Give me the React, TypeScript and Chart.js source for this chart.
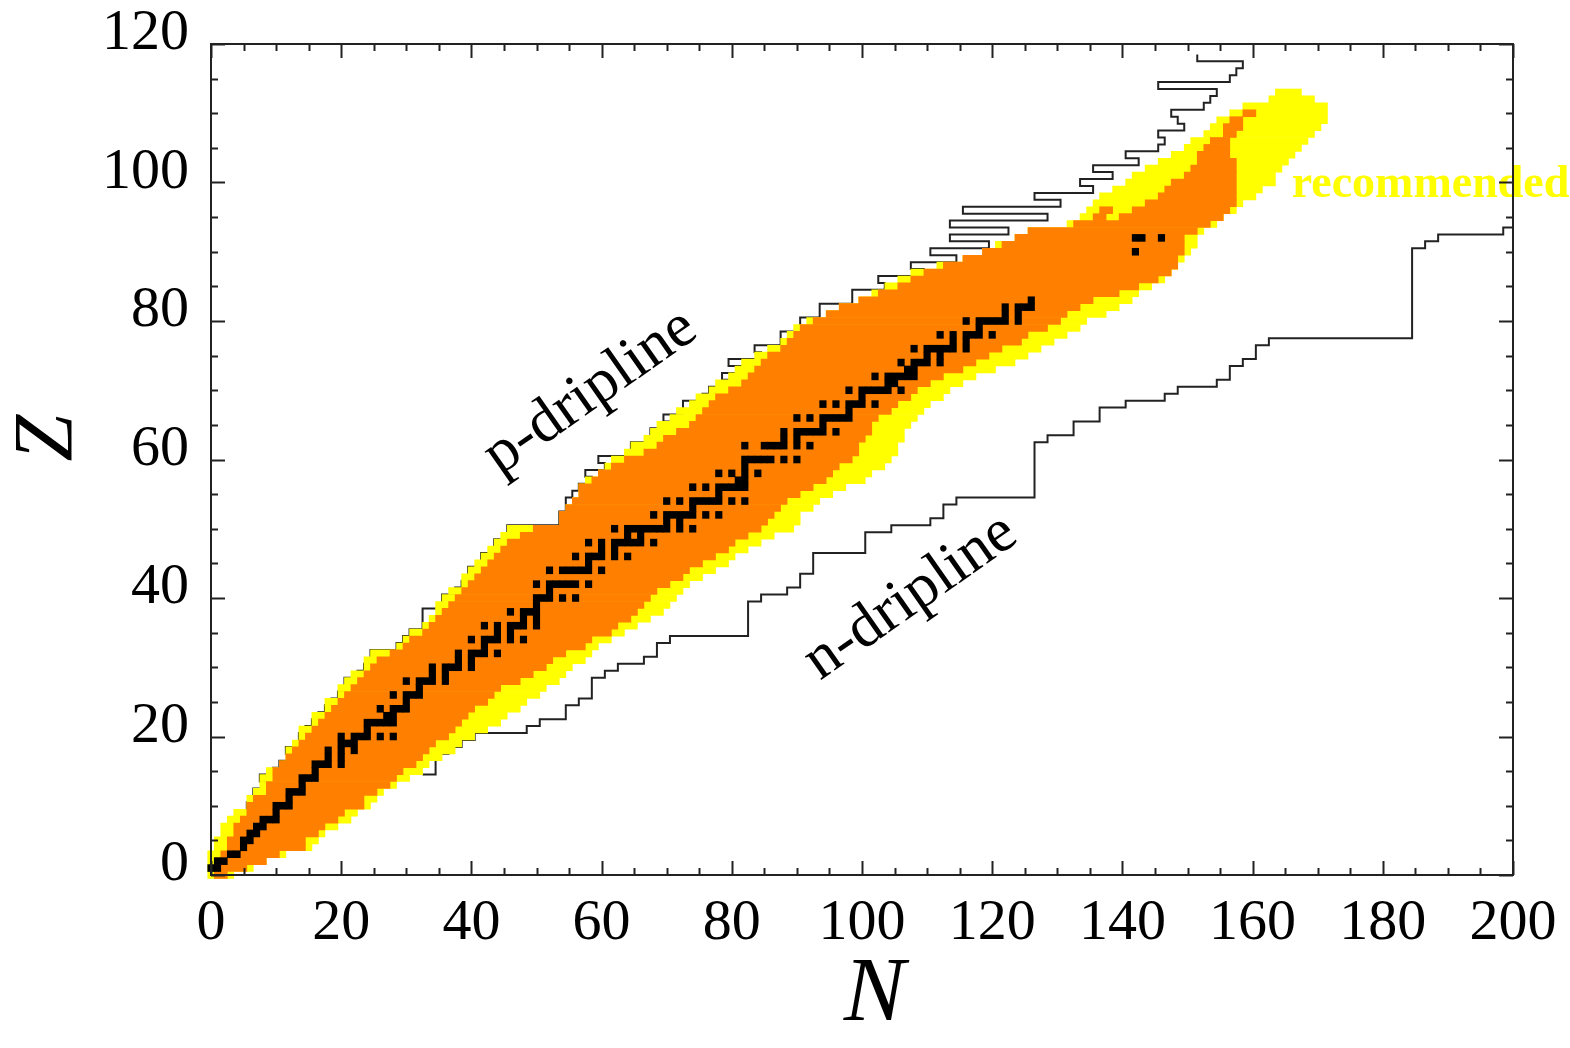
import React, { useEffect, useRef } from 'react';
import { Chart, registerables } from 'chart.js';

Chart.register(...registerables);

const W = 1570;
const H = 1048;

// Axis ranges and tick steps
const N_MAX = 200;
const Z_MAX = 120;
const LABEL_STEP = 20;
const MINOR_STEP = 5;

// Per-Z (index = Z) range of the "recommended" (yellow) region, in N
const yellowLeftN = [
  0, 0, 0, 0, 1, 1, 2, 2, 3, 4,
  6, 6, 7, 8, 8, 9, 11, 12, 12, 13,
  14, 14, 16, 16, 18, 18, 20, 20, 21, 22,
  24, 24, 25, 29, 30, 31, 33, 34, 35, 35,
  36, 37, 39, 39, 40, 41, 42, 43, 44, 45,
  46, 54, 54, 55, 56, 57, 57, 58, 60, 61,
  62, 64, 65, 67, 68, 69, 71, 72, 74, 75,
  77, 78, 80, 81, 82, 84, 86, 88, 89, 90,
  92, 95, 97, 100, 102, 104, 106, 108, 112, 116,
  119, 121, 124, 126, 132, 134, 135, 136, 137, 139,
  141, 142, 144, 146, 148, 150, 151, 153, 154, 155,
  157, 159, 163, 164,
];
const yellowRightN = [
  3, 6, 8, 11, 15, 16, 17, 19, 21, 22,
  24, 25, 26, 28, 30, 32, 33, 35, 37, 38,
  40, 42, 44, 45, 47, 48, 50, 51, 53, 54,
  55, 57, 58, 59, 61, 63, 65, 67, 69, 70,
  71, 72, 73, 75, 77, 79, 80, 82, 84, 86,
  89, 90, 90, 92, 93, 95, 97, 100, 101, 103,
  104, 105, 105, 106, 106, 107, 108, 109, 110, 112,
  113, 115, 117, 120, 123, 125, 127, 129, 131, 133,
  134, 137, 139, 141, 142, 144, 146, 147, 148, 149,
  150, 151, 151, 152, 154, 155, 157, 158, 160, 161,
  163, 163, 164, 165, 166, 167, 168, 169, 170, 171,
  171, 171, 169, 167,
];

// Per-Z (index = Z) range of the orange region, in N
const orangeLeftN = [
  1, 1, 1, 2, 3, 3, 4, 4, 5, 6,
  6, 7, 9, 9, 10, 10, 11, 12, 13, 14,
  15, 16, 17, 18, 19, 20, 21, 22, 23, 24,
  25, 26, 28, 30, 31, 33, 34, 35, 36, 37,
  38, 39, 40, 41, 42, 43, 44, 45, 46, 48,
  50, 54, 54, 55, 56, 57, 57, 59, 60, 62,
  64, 67, 69, 70, 72, 74, 75, 76, 77, 78,
  80, 82, 83, 84, 85, 86, 88, 89, 90, 91,
  93, 95, 97, 100, 103, 106, 108, 110, 113, 116,
  119, 122, 124, 126, 133, 140, 142, 144, 146, 147,
  148, 150, 151, 152, 152, 153, 154, 156,
];
const orangeRightN = [
  2, 5, 8, 10, 14, 14, 16, 17, 19, 20,
  23, 23, 25, 27, 28, 29, 31, 32, 33, 34,
  36, 37, 38, 39, 40, 42, 43, 44, 47, 49,
  51, 52, 54, 57, 58, 61, 62, 64, 65, 66,
  67, 68, 70, 72, 73, 75, 77, 79, 80, 82,
  84, 85, 86, 87, 88, 90, 92, 94, 95, 96,
  98, 99, 99, 100, 101, 101, 102, 104, 105, 107,
  108, 110, 112, 115, 117, 119, 121, 124, 125, 128,
  130, 131, 133, 135, 139, 142, 145, 147, 148, 148,
  149, 149, 149, 151, 153, 155, 156, 157, 157, 157,
  157, 157, 157, 157, 156, 156, 156, 157,
];
// Isolated orange cells in the upper (yellow) part
const orangePatchZ = [95, 96, 108, 109, 110];
const orangePatchN0 = [136, 137, 156, 157, 159];
const orangePatchN1 = [137, 138, 158, 158, 160];

// Black cells (index = Z): N of the stable / long-lived nuclei
const stableN: number[][] = [
  [], [0, 1], [1, 2], [3, 4], [5], [5, 6], [6, 7], [7, 8], [8, 9, 10], [10],
  [10, 11, 12], [12], [12, 13, 14], [14], [14, 15, 16], [16], [16, 17, 18, 20], [18, 20], [18, 20, 22], [20, 21, 22],
  [20, 22, 23, 24, 26, 28], [24], [24, 25, 26, 27, 28], [27, 28], [26, 28, 29, 30], [30], [28, 30, 31, 32], [32], [30, 32, 33, 34, 36], [34, 36],
  [34, 36, 37, 38, 40], [38, 40], [38, 40, 41, 42, 44], [42], [40, 42, 43, 44, 46, 48], [44, 46], [42, 44, 46, 47, 48, 50], [48, 50], [46, 48, 49, 50], [50],
  [50, 51, 52, 54, 56], [52], [50, 52, 53, 54, 55, 56, 58], [], [52, 54, 55, 56, 57, 58, 60], [58], [56, 58, 59, 60, 62, 64], [60, 62], [58, 60, 62, 63, 64, 65, 66, 68], [64, 66],
  [62, 64, 65, 66, 67, 68, 69, 70, 72, 74], [70, 72], [68, 70, 71, 72, 73, 74, 76, 78], [74], [70, 72, 74, 75, 76, 77, 78, 80, 82], [78], [74, 76, 78, 79, 80, 81, 82], [81, 82], [78, 80, 82, 84], [82],
  [82, 83, 84, 85, 86, 88, 90], [], [82, 85, 86, 87, 88, 90, 92], [88, 90], [88, 90, 91, 92, 93, 94, 96], [94], [90, 92, 94, 95, 96, 97, 98], [98], [94, 96, 98, 99, 100, 102], [100],
  [98, 100, 101, 102, 103, 104, 106], [104, 105], [102, 104, 105, 106, 107, 108], [107, 108], [106, 108, 109, 110, 112], [110, 112], [108, 110, 111, 112, 113, 114, 116], [114, 116], [112, 114, 116, 117, 118, 120], [118],
  [116, 118, 119, 120, 121, 122, 124], [122, 124], [122, 124, 125, 126], [126], [], [], [], [], [], [],
  [142], [], [142, 143, 146],
];

// p-dripline: most proton-rich bound N for each Z, starting at Z = 10
const P_DRIP_Z0 = 10;
const pDriplineN = [
  6, 8, 7, 9, 8, 10, 11, 13, 12, 14,
  14, 15, 16, 17, 18, 19, 20, 21, 21, 23,
  24, 26, 25, 29, 30, 31, 33, 33, 33, 36,
  36, 38, 39, 41, 40, 42, 42, 44, 44, 46,
  46, 54, 54, 55, 55, 56, 57, 59, 58, 61,
  60, 65, 65, 68, 68, 72, 70, 73, 73, 76,
  77, 80, 79, 82, 80, 85, 84, 88, 88, 91,
  91, 94, 94, 99, 99, 104, 103, 110, 108, 115,
  111, 120, 114, 123, 114, 129, 116, 131, 127, 136,
  134, 139, 136, 143, 141, 146, 147, 146, 150, 149,
  148, 153, 154, 155, 146, 157, 158, 159, 152,
];

// n-dripline: staircase corners (N where the line steps up, Z after the step)
const nDriplineN = [
  32.5, 34.5, 36.5, 38.5, 40.5, 48.5, 50.5, 54.5, 56.5, 58.5,
  60.5, 62.5, 66.5, 68.5, 70.5, 82.5, 84.5, 88.5, 90.5, 92.5,
  100.5, 104.5, 110.5, 112.5, 114.5, 126.5, 128.5, 132.5, 136.5, 140.5,
  146.5, 148.5, 154.5, 156.5, 158.5, 160.5, 162.5, 184.5, 186.5, 188.5,
  198.5, 202,
];
const nDriplineZ = [
  14.5, 17.5, 18.5, 19.5, 20.5, 21.5, 22.5, 24.5, 25.5, 28.5,
  29.5, 30.5, 31.5, 33.5, 34.5, 39.5, 40.5, 41.5, 43.5, 46.5,
  49.5, 50.5, 51.5, 53.5, 54.5, 62.5, 63.5, 65.5, 67.5, 68.5,
  69.5, 70.5, 71.5, 73.5, 74.5, 76.5, 77.5, 90.5, 91.5, 92.5,
  93.5, 93.5,
];

const YELLOW = '#ffff00';
const ORANGE = '#ff8000';
const LINE = '#222222';
const SERIF = "'Liberation Serif', 'Times New Roman', serif";

function rowCells(left: number[], right: number[]) {
  return left.map((n0, z) => ({ x: [n0 - 0.5, right[z] + 0.5], y: z }));
}

const yellowCells = rowCells(yellowLeftN, yellowRightN);
const orangeCells = rowCells(orangeLeftN, orangeRightN).concat(
  orangePatchZ.map((z, i) => ({ x: [orangePatchN0[i] - 0.5, orangePatchN1[i] + 0.5], y: z }))
);
const stableCells = stableN.flatMap((ns, z) => ns.map((n) => ({ x: [n - 0.5, n + 0.5], y: z })));

const pDripPoints = pDriplineN.flatMap((n, i) => {
  const z = P_DRIP_Z0 + i;
  return [{ x: n - 0.5, y: z - 0.5 }, { x: n - 0.5, y: z + 0.5 }];
});
const nDripPoints: { x: number; y: number }[] = [{ x: nDriplineN[0], y: nDriplineZ[0] }];
for (let i = 1; i < nDriplineN.length; i++) {
  nDripPoints.push({ x: nDriplineN[i], y: nDriplineZ[i - 1] }, { x: nDriplineN[i], y: nDriplineZ[i] });
}

const decor = {
  id: 'decor',
  beforeDraw(chart: any) {
    const { ctx } = chart;
    const x = chart.scales.x;
    const y = chart.scales.y;
    ctx.save();
    ctx.fillStyle = YELLOW;
    ctx.font = `bold 46px ${SERIF}`;
    ctx.textAlign = 'left';
    ctx.textBaseline = 'alphabetic';
    ctx.fillText('recommended', x.getPixelForValue(166), y.getPixelForValue(97.9));
    ctx.restore();
  },
  afterDatasetsDraw(chart: any) {
    const { ctx, chartArea } = chart;
    const x = chart.scales.x;
    const y = chart.scales.y;
    const { left, right, top, bottom } = chartArea;
    ctx.save();
    // frame
    ctx.strokeStyle = LINE;
    ctx.lineWidth = 2;
    ctx.strokeRect(left, top, right - left, bottom - top);
    // inward ticks on all four sides
    ctx.beginPath();
    for (let n = 0; n <= N_MAX; n += MINOR_STEP) {
      const px = Math.round(x.getPixelForValue(n)) + 0.5;
      const len = n % LABEL_STEP === 0 ? 14 : 7;
      ctx.moveTo(px, bottom);
      ctx.lineTo(px, bottom - len);
      ctx.moveTo(px, top);
      ctx.lineTo(px, top + len);
    }
    for (let z = 0; z <= Z_MAX; z += MINOR_STEP) {
      const py = Math.round(y.getPixelForValue(z)) + 0.5;
      const len = z % LABEL_STEP === 0 ? 14 : 7;
      ctx.moveTo(left, py);
      ctx.lineTo(left + len, py);
      ctx.moveTo(right, py);
      ctx.lineTo(right - len, py);
    }
    ctx.stroke();

    // dripline labels
    ctx.fillStyle = '#000';
    ctx.font = `62px ${SERIF}`;
    ctx.textAlign = 'center';
    ctx.textBaseline = 'middle';
    const ang = (-35 * Math.PI) / 180;
    ctx.save();
    ctx.translate(x.getPixelForValue(58.3), y.getPixelForValue(69.7));
    ctx.rotate(ang);
    ctx.fillText('p-dripline', 0, 0);
    ctx.restore();
    ctx.save();
    ctx.translate(x.getPixelForValue(107.5), y.getPixelForValue(40.1));
    ctx.rotate(ang);
    ctx.fillText('n-dripline', 0, 0);
    ctx.restore();

    // axis titles
    ctx.textBaseline = 'alphabetic';
    ctx.font = `italic 92px ${SERIF}`;
    ctx.fillText('N', x.getPixelForValue(101.9), bottom + 145);
    ctx.save();
    ctx.translate(left - 139, y.getPixelForValue(63.1));
    ctx.rotate(-Math.PI / 2);
    ctx.font = `italic 84px ${SERIF}`;
    ctx.fillText('Z', 0, 0);
    ctx.restore();
    ctx.restore();
  },
};

export default function App() {
  const ref = useRef<HTMLCanvasElement>(null);
  useEffect(() => {
    const barCommon = {
      type: 'bar' as const,
      indexAxis: 'y' as const,
      grouped: false,
      barPercentage: 1,
      categoryPercentage: 1,
      borderWidth: 0,
      clip: false as any,
    };
    const chart = new Chart(ref.current as HTMLCanvasElement, {
      type: 'scatter',
      data: {
        datasets: [
          {
            type: 'line',
            label: 'p-dripline',
            data: pDripPoints,
            borderColor: LINE,
            borderWidth: 2,
            pointRadius: 0,
            fill: false,
            tension: 0,
            order: 6,
          } as any,
          {
            type: 'line',
            label: 'n-dripline',
            data: nDripPoints,
            borderColor: LINE,
            borderWidth: 2,
            pointRadius: 0,
            fill: false,
            tension: 0,
            order: 6,
          } as any,
          { ...barCommon, label: 'recommended', data: yellowCells, backgroundColor: YELLOW, order: 4 } as any,
          { ...barCommon, label: 'orange', data: orangeCells, backgroundColor: ORANGE, order: 3 } as any,
          { ...barCommon, label: 'stable', data: stableCells, backgroundColor: '#000000', order: 1 } as any,
        ],
      },
      options: {
        responsive: false,
        animation: false,
        devicePixelRatio: 1,
        events: [],
        layout: { padding: { left: 0, right: 57, top: 44, bottom: 0 } },
        plugins: { legend: { display: false }, tooltip: { enabled: false } },
        scales: {
          x: {
            type: 'linear',
            min: 0,
            max: N_MAX,
            offset: false,
            grid: { display: false, drawTicks: false },
            border: { display: false },
            ticks: {
              stepSize: LABEL_STEP,
              padding: 14,
              autoSkip: false,
              maxRotation: 0,
              color: '#000',
              font: { family: SERIF, size: 58 },
            },
            afterFit: (s: any) => {
              s.height = 173;
              s.paddingLeft = 0;
              s.paddingRight = 0;
              s.paddingTop = 0;
              s.paddingBottom = 0;
            },
          },
          y: {
            type: 'linear',
            min: 0,
            max: Z_MAX,
            offset: false,
            grid: { display: false, drawTicks: false },
            border: { display: false },
            ticks: {
              stepSize: LABEL_STEP,
              padding: 22,
              labelOffset: -10,
              autoSkip: false,
              color: '#000',
              font: { family: SERIF, size: 58 },
            },
            afterFit: (s: any) => {
              s.width = 211;
              s.paddingLeft = 0;
              s.paddingRight = 0;
              s.paddingTop = 0;
              s.paddingBottom = 0;
            },
          },
        },
      } as any,
      plugins: [decor],
    });
    return () => chart.destroy();
  }, []);
  return (
    <div style={{ position: 'absolute', left: 0, top: 0, width: W, height: H, background: '#fff' }}>
      <canvas ref={ref} width={W} height={H} style={{ display: 'block', width: W, height: H }} />
    </div>
  );
}
